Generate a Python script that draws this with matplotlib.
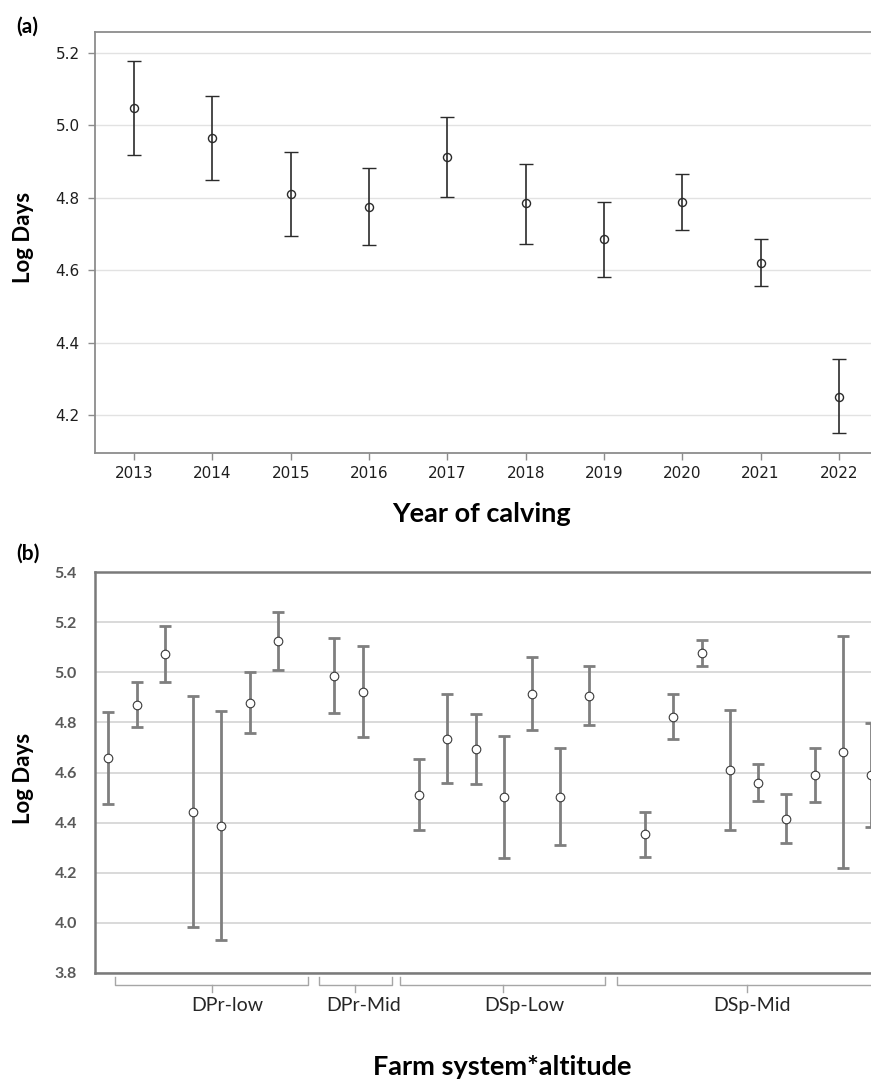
import matplotlib
matplotlib.use('Agg')
import matplotlib.pyplot as plt
import matplotlib.transforms as mtransforms
import numpy as np

# (a) estimated means and 95% CI by year of calving
years = [2013, 2014, 2015, 2016, 2017, 2018, 2019, 2020, 2021, 2022]
year_mean = [5.047, 4.966, 4.810, 4.775, 4.913, 4.785, 4.685, 4.788, 4.619, 4.251]
year_upper = [5.178, 5.082, 4.926, 4.881, 5.022, 4.894, 4.788, 4.866, 4.685, 4.354]
year_lower = [4.919, 4.850, 4.694, 4.669, 4.803, 4.672, 4.582, 4.710, 4.557, 4.151]

# (b) farm system * altitude, nan = empty slot between groups
nan = np.nan
farm_mean = [4.658, 4.869, 5.072, 4.444, 4.387, 4.879, 5.124, nan,
             4.987, 4.921, nan,
             4.509, 4.734, 4.692, 4.502, 4.914, 4.502, 4.906, nan,
             4.353, 4.822, 5.077, 4.609, 4.560, 4.416, 4.589, 4.682, 4.589]
farm_upper = [4.842, 4.960, 5.184, 4.905, 4.847, 5.000, 5.242, nan,
              5.139, 5.104, nan,
              4.655, 4.912, 4.832, 4.747, 5.062, 4.696, 5.025, nan,
              4.444, 4.912, 5.129, 4.848, 4.634, 4.513, 4.696, 5.146, 4.798]
farm_lower = [4.476, 4.782, 4.960, 3.984, 3.929, 4.758, 5.008, nan,
              4.837, 4.742, nan,
              4.369, 4.560, 4.556, 4.257, 4.770, 4.309, 4.790, nan,
              4.261, 4.732, 5.024, 4.372, 4.485, 4.318, 4.482, 4.218, 4.382]

group_names = ['DPr-low', 'DPr-Mid', 'DSp-Low', 'DSp-Mid']
group_start = [0.24, 7.45, 10.32, 18.0]
group_end = [7.07, 10.04, 17.6, 28.5]
group_mid = [3.67, 8.75, 13.97, 22.6]
group_label_x = [4.2, 9.05, 14.74, 22.78]

W, H = 871, 1080
fig = plt.figure(figsize=(W / 100, H / 100), dpi=100)
fig.patch.set_facecolor('white')


def px_axes(left, top, right, bottom):
    return fig.add_axes([left / W, 1 - bottom / H, (right - left) / W, (bottom - top) / H])


label_font = ['Lato', 'DejaVu Sans']

# ---------- panel (a) ----------
ax1 = px_axes(95, 32, 871, 453)
ym = np.array(year_mean)
err_a = [ym - np.array(year_lower), np.array(year_upper) - ym]
ax1.errorbar(years, ym, yerr=err_a, fmt='o', color='#2b2b2b', ecolor='#2b2b2b',
             elinewidth=1.2, capsize=4.8, capthick=1.2, markersize=5.8,
             markerfacecolor='none', markeredgewidth=1.0, zorder=3)
ax1.set_xlim(2012.5, 2022.41)
ax1.set_ylim(4.095, 5.258)
ax1.set_xticks(years)
ax1.set_yticks([4.2, 4.4, 4.6, 4.8, 5.0, 5.2])
ax1.set_yticklabels(['4.2', '4.4', '4.6', '4.8', '5.0', '5.2'])
ax1.grid(axis='y', color='#e2e2e2', linewidth=1.0, zorder=0)
ax1.set_axisbelow(True)
for s in ['top', 'left', 'bottom']:
    ax1.spines[s].set_color('#8c8c8c')
    ax1.spines[s].set_linewidth(1.3)
ax1.spines['right'].set_visible(False)
ax1.tick_params(axis='both', colors='#8c8c8c', length=5, width=1.0,
                labelcolor='#1e1e1e', labelsize=11)
ax1.tick_params(axis='x', pad=4)
ax1.tick_params(axis='y', pad=6)
for lab in ax1.get_xticklabels() + ax1.get_yticklabels():
    lab.set_family('DejaVu Sans')

fig.text(27 / W, 1 - 26.5 / H, '(a)', fontsize=15, fontweight='bold',
         family=label_font, ha='center', va='center')
fig.text(23 / W, 1 - 237.5 / H, 'Log Days', fontsize=16, fontweight='bold',
         family=label_font, rotation=90, ha='center', va='center')
fig.text(481.7 / W, 1 - 521.7 / H, 'Year of calving', fontsize=19.5,
         fontweight='bold', family=label_font, ha='center', va='baseline')

# ---------- panel (b) ----------
ax2 = px_axes(95, 572.3, 871, 972.7)
fm = np.array(farm_mean)
slots = np.arange(len(fm))
ok = np.isfinite(fm)
err_b = [fm[ok] - np.array(farm_lower)[ok], np.array(farm_upper)[ok] - fm[ok]]
ax2.errorbar(slots[ok], fm[ok], yerr=err_b, fmt='none', ecolor='#7f7f7f',
             elinewidth=2.0, capsize=4.2, capthick=2.0, zorder=3)
ax2.plot(slots[ok], fm[ok], 'o', markersize=6.2, markerfacecolor='white',
         markeredgecolor='#3a3a3a', markeredgewidth=0.8, zorder=4)
ax2.set_xlim(-0.47, 27.0)
ax2.set_ylim(3.8, 5.4)
ax2.set_yticks([3.8, 4.0, 4.2, 4.4, 4.6, 4.8, 5.0, 5.2, 5.4])
ax2.set_yticklabels(['3.8', '4.0', '4.2', '4.4', '4.6', '4.8', '5.0', '5.2', '5.4'])
ax2.set_xticks([])
ax2.grid(axis='y', color='#d9d9d9', linewidth=1.4, zorder=0)
ax2.set_axisbelow(True)
for s in ['top', 'left', 'bottom']:
    ax2.spines[s].set_color('#7a7a7a')
    ax2.spines[s].set_linewidth(1.8)
ax2.spines['right'].set_visible(False)
ax2.tick_params(axis='y', length=0, pad=13, labelcolor='#595959', labelsize=11.5)
for lab in ax2.get_yticklabels():
    lab.set_family(label_font)
    lab.set_fontweight('bold')

# group brackets under the axis
trans = mtransforms.blended_transform_factory(ax2.transData, ax2.transAxes)
y_end, y_bar, y_tip = -0.011, -0.031, -0.048
for name, x0, x1, xm, xl in zip(group_names, group_start, group_end, group_mid, group_label_x):
    ax2.plot([x0, x0, x1, x1], [y_end, y_bar, y_bar, y_end], color='#a6a6a6',
             linewidth=1.0, transform=trans, clip_on=False)
    ax2.plot([xm, xm], [y_bar, y_tip], color='#a6a6a6', linewidth=1.0,
             transform=trans, clip_on=False)
    ax2.text(xl, -0.081, name, transform=trans, ha='center', va='center',
             fontsize=14, family=label_font, color='#262626')

fig.text(27.5 / W, 1 - 553.5 / H, '(b)', fontsize=15, fontweight='bold',
         family=label_font, ha='center', va='center')
fig.text(23 / W, 1 - 778 / H, 'Log Days', fontsize=16, fontweight='bold',
         family=label_font, rotation=90, ha='center', va='center')
fig.text(502 / W, 1 - 1075 / H, 'Farm system*altitude', fontsize=19.5,
         fontweight='bold', family=label_font, ha='center', va='baseline')

fig.savefig('out.png', dpi=100, facecolor='white')
